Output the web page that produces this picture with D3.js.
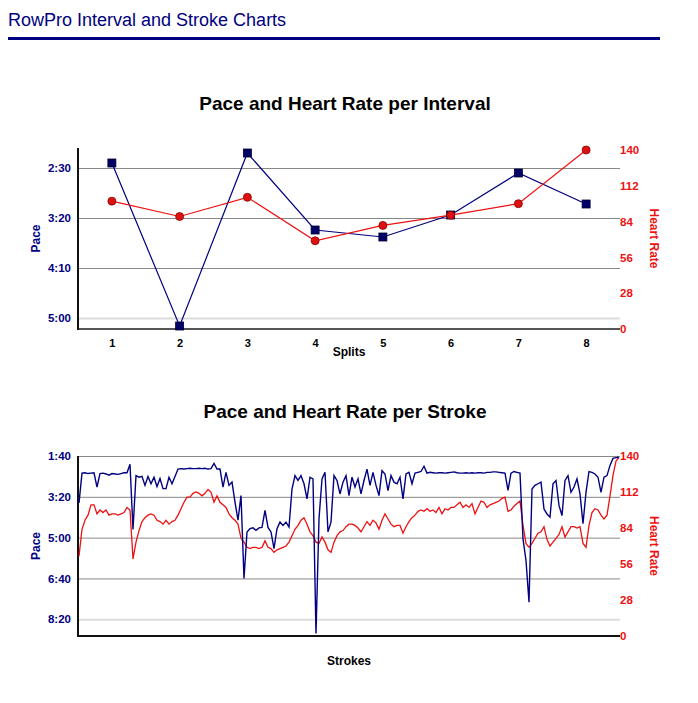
<!DOCTYPE html>
<html>
<head>
<meta charset="utf-8">
<script src="https://cdn.jsdelivr.net/npm/d3@7"></script>
<style>
  body { margin: 0; background: #fff; }
  svg { font-family: "Liberation Sans", Arial, Helvetica, sans-serif; }
</style>
</head>
<body>
<svg id="chart"></svg>
<script>
var width = 698;
var height = 703;

// interval chart data (pace in seconds per 500m)
var splits = [1, 2, 3, 4, 5, 6, 7, 8];
var splitPace = [145, 308, 135, 212, 219, 197, 155, 186];
var splitHR = [100, 88, 103, 69, 81, 89, 98, 140];
var splitPaceTicks = [150, 200, 250, 300];

// per stroke data
var strokePace = [
  215,142,141,143,142,141,176,143,142,144,
  147,143,144,145,143,141,141,120,280,148,
  152,150,172,150,168,152,175,155,180,180,
  152,168,150,132,131,132,131,130,131,131,
  130,131,130,132,131,118,132,132,176,140,
  172,164,213,257,197,400,286,278,276,282,
  276,275,233,275,286,327,278,262,270,262,
  274,181,148,160,148,168,205,152,156,535,
  254,156,140,286,262,148,160,193,164,148,
  197,152,176,156,193,160,132,172,140,172,
  197,136,144,185,148,164,168,152,205,144,
  140,168,142,140,138,125,142,140,141,142,
  141,141,142,141,140,139,141,142,142,141,
  142,141,142,141,141,142,140,140,139,139,
  140,141,142,184,142,138,140,142,303,356,
  458,181,172,168,164,230,242,250,168,160,
  221,246,160,148,189,176,156,193,266,189,
  138,140,144,152,189,152,148,123,106,104,103
];
var strokeHR = [
  62,83,90,94,102,102,95,98,96,98,
  94,95,95,94,95,96,100,98,60,73,
  82,89,92,94,95,94,90,89,87,90,
  87,89,90,94,99,104,108,108,111,112,
  111,109,111,114,112,104,109,104,102,100,
  95,92,90,87,76,73,69,68,69,69,
  68,69,74,69,68,65,67,68,69,70,
  73,78,83,86,90,92,87,81,78,73,
  72,77,73,67,65,73,78,81,82,85,
  87,87,86,84,81,85,89,86,90,88,
  83,90,95,91,87,85,86,86,80,85,
  89,92,94,97,98,97,99,97,98,96,
  100,95,99,98,100,100,102,104,100,102,
  100,103,95,100,105,104,100,102,103,104,
  105,107,108,97,98,101,103,105,86,72,
  69,72,76,80,81,85,75,70,73,76,
  79,85,77,81,85,85,84,85,72,69,
  86,96,99,98,94,91,94,109,125,136,139
];
var strokePaceTicks = [100, 200, 300, 400, 500];
var hrTicks = [0, 28, 56, 84, 112, 140];

var navy = '#000080';
var red = '#ee1111';

var svg = d3.select('#chart')
    .attr('width', width)
    .attr('height', height);

function fmtPace(s) {
  var m = Math.floor(s / 60);
  var r = Math.round(s % 60);
  return m + ':' + (r < 10 ? '0' : '') + r;
}

// page header
svg.append('text')
    .attr('x', 8)
    .attr('y', 26)
    .attr('fill', navy)
    .style('font-size', '18px')
    .text('RowPro Interval and Stroke Charts');
svg.append('rect')
    .attr('x', 8).attr('y', 37)
    .attr('width', 652).attr('height', 3)
    .attr('fill', navy);

var left = 78, right = 620;

function drawFrame(c) {
  var g = svg.append('g');
  var paceScale = d3.scaleLinear().domain(c.paceDomain).range([c.top, c.bottom]);
  var hrScale = d3.scaleLinear().domain([0, 140]).range([c.bottom, c.hrTop]);

  // grid lines
  var grid = g.append('g')
      .attr('transform', `translate(${left},0)`)
      .call(d3.axisLeft(paceScale).tickValues(c.paceTicks).tickSize(-(right - left)).tickFormat(''));
  grid.select('.domain').remove();
  grid.selectAll('.tick line')
      .attr('stroke', (d, i) => i == c.paceTicks.length - 1 ? '#dcdcdc' : '#888')
      .attr('stroke-width', (d, i) => i == c.paceTicks.length - 1 ? 2 : 1);

  // pace tick labels
  var yl = g.append('g')
      .attr('transform', `translate(${left},0)`)
      .call(d3.axisLeft(paceScale).tickValues(c.paceTicks).tickSize(0).tickPadding(7).tickFormat(fmtPace));
  yl.select('.domain').remove();
  yl.selectAll('text')
      .attr('fill', navy)
      .style('font-size', '11.5px')
      .style('font-weight', 'bold')
      .style('font-family', 'inherit');

  // heart rate tick labels
  var yr = g.append('g')
      .attr('transform', `translate(${right},0)`)
      .call(d3.axisRight(hrScale).tickValues(hrTicks).tickSize(0).tickPadding(0));
  yr.select('.domain').remove();
  yr.selectAll('text')
      .attr('fill', red)
      .style('font-size', '11.5px')
      .style('font-weight', 'bold')
      .style('font-family', 'inherit');

  // axis lines
  g.append('line')
      .attr('x1', left).attr('x2', right)
      .attr('y1', c.bottom).attr('y2', c.bottom)
      .attr('stroke', c.baseColor).attr('stroke-width', 2);
  g.append('line')
      .attr('x1', left).attr('x2', left)
      .attr('y1', c.top).attr('y2', c.bottom + 1)
      .attr('stroke', '#111').attr('stroke-width', 2);

  // titles
  g.append('text')
      .attr('text-anchor', 'middle')
      .attr('x', 345).attr('y', c.titleY)
      .style('font-size', '19px').style('font-weight', 'bold')
      .text(c.title);
  g.append('text')
      .attr('text-anchor', 'middle')
      .attr('transform', `translate(40,${(c.top + c.bottom) / 2}) rotate(-90)`)
      .attr('fill', navy)
      .style('font-size', '12px').style('font-weight', 'bold')
      .text('Pace');
  g.append('text')
      .attr('text-anchor', 'middle')
      .attr('transform', `translate(650,${(c.top + c.bottom) / 2}) rotate(90)`)
      .attr('fill', red)
      .style('font-size', '12px').style('font-weight', 'bold')
      .text('Heart Rate');
  g.append('text')
      .attr('text-anchor', 'middle')
      .attr('x', 349).attr('y', c.xLabelY)
      .style('font-size', '12px').style('font-weight', 'bold')
      .text(c.xLabel);

  return { g: g, pace: paceScale, hr: hrScale };
}

// ---- Chart 1: per interval ----
var c1 = drawFrame({
  top: 148, bottom: 329, hrTop: 150,
  paceDomain: [130, 311], paceTicks: splitPaceTicks,
  title: 'Pace and Heart Rate per Interval', titleY: 110,
  xLabel: 'Splits', xLabelY: 356, baseColor: '#555'
});
var xSplit = d3.scalePoint().domain(splits).range([left, right]).padding(0.5);

var xa = c1.g.append('g')
    .attr('transform', 'translate(0,329)')
    .call(d3.axisBottom(xSplit).tickSize(0).tickPadding(10));
xa.select('.domain').remove();
xa.selectAll('text')
    .attr('fill', '#000')
    .style('font-size', '11px')
    .style('font-weight', 'bold')
    .style('font-family', 'inherit');

var splitRows = splits.map((s, i) => ({ s: s, pace: splitPace[i], hr: splitHR[i] }));

c1.g.append('path')
    .datum(splitRows)
    .attr('fill', 'none')
    .attr('stroke', navy)
    .attr('stroke-width', 1.2)
    .attr('d', d3.line().x(d => xSplit(d.s)).y(d => c1.pace(d.pace)));
c1.g.append('path')
    .datum(splitRows)
    .attr('fill', 'none')
    .attr('stroke', red)
    .attr('stroke-width', 1.2)
    .attr('d', d3.line().x(d => xSplit(d.s)).y(d => c1.hr(d.hr)));

c1.g.selectAll('rect.pm')
    .data(splitRows)
    .enter()
    .append('rect')
    .attr('class', 'pm')
    .attr('x', d => xSplit(d.s) - 4)
    .attr('y', d => c1.pace(d.pace) - 4)
    .attr('width', 8).attr('height', 8)
    .attr('fill', '#000066')
    .attr('stroke', '#000033').attr('stroke-width', 0.8);
c1.g.selectAll('circle.hm')
    .data(splitRows)
    .enter()
    .append('circle')
    .attr('class', 'hm')
    .attr('cx', d => xSplit(d.s))
    .attr('cy', d => c1.hr(d.hr))
    .attr('r', 4)
    .attr('fill', '#dd1111')
    .attr('stroke', '#8a0000').attr('stroke-width', 0.8);

// ---- Chart 2: per stroke ----
var c2 = drawFrame({
  top: 456, bottom: 636, hrTop: 456,
  paceDomain: [100, 541], paceTicks: strokePaceTicks,
  title: 'Pace and Heart Rate per Stroke', titleY: 418,
  xLabel: 'Strokes', xLabelY: 665, baseColor: '#111'
});
var xStroke = d3.scaleLinear().domain([0, strokePace.length - 1]).range([left + 1, right - 1]);

var paceLine = d3.line().x((d, i) => xStroke(i)).y(d => c2.pace(d));
var hrLine = d3.line().x((d, i) => xStroke(i)).y(d => c2.hr(d));

c2.g.append('path')
    .datum(strokeHR)
    .attr('fill', 'none')
    .attr('stroke', red)
    .attr('stroke-width', 1.3)
    .attr('d', hrLine);
c2.g.append('path')
    .datum(strokePace)
    .attr('fill', 'none')
    .attr('stroke', navy)
    .attr('stroke-width', 1.4)
    .attr('d', paceLine);
</script>
</body>
</html>
